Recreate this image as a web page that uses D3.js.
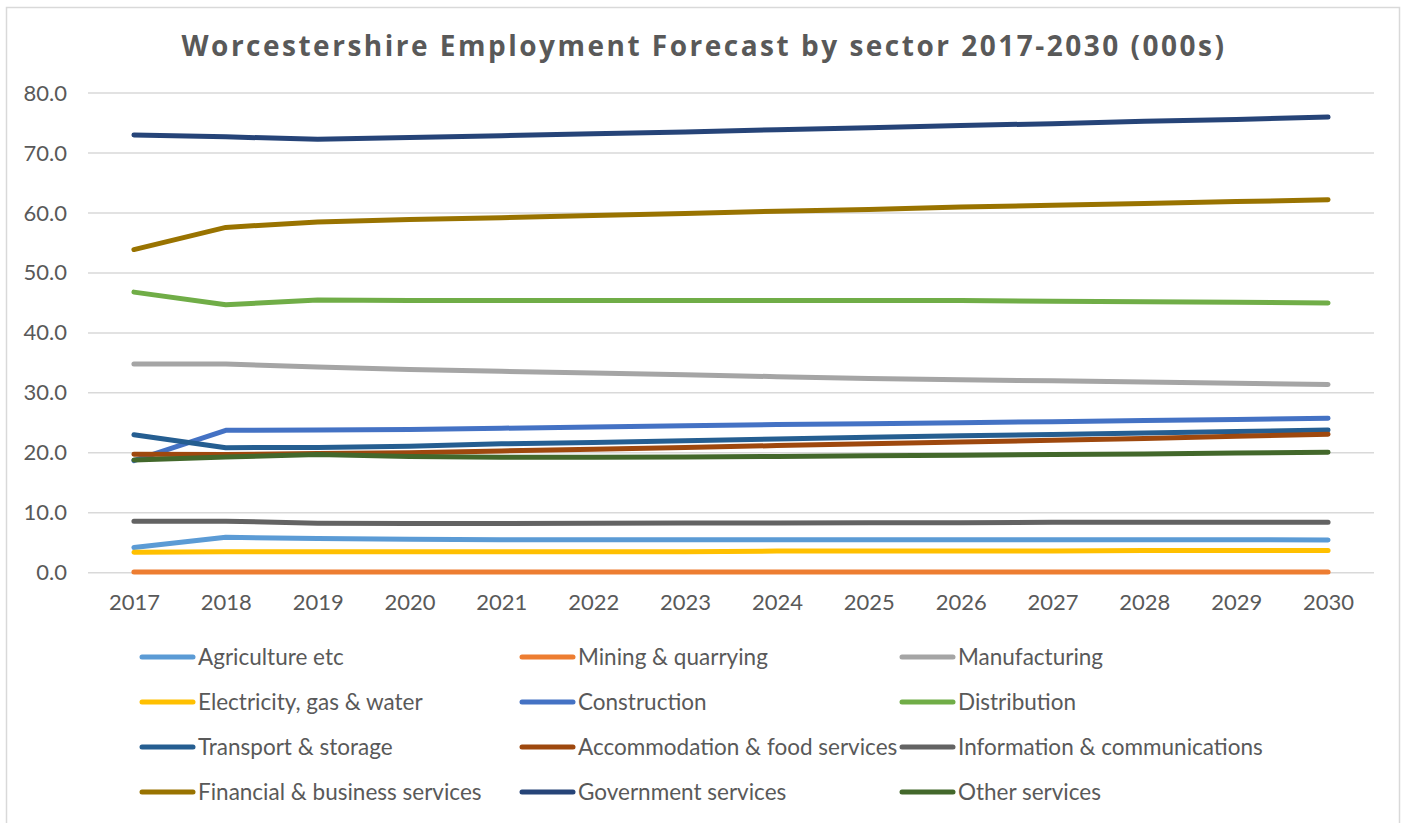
<!DOCTYPE html>
<html>
<head>
<meta charset="utf-8">
<script src="https://cdn.jsdelivr.net/npm/d3@7"></script>
<style>
  html, body { margin: 0; padding: 0; background: #ffffff; }
  svg { display: block; }
</style>
</head>
<body>
<svg id="chart" width="1404" height="823"></svg>
<script>
// Employment by sector, thousands of jobs
const years = ["2017","2018","2019","2020","2021","2022","2023","2024","2025","2026","2027","2028","2029","2030"];
const yTicks = [0, 10, 20, 30, 40, 50, 60, 70, 80];

const agriculture    = [4.2, 5.9, 5.7, 5.6, 5.5, 5.5, 5.5, 5.5, 5.5, 5.5, 5.5, 5.5, 5.5, 5.45];
const mining         = [0.1, 0.1, 0.1, 0.1, 0.1, 0.1, 0.1, 0.1, 0.1, 0.1, 0.1, 0.1, 0.1, 0.1];
const manufacturing  = [34.8, 34.8, 34.3, 33.9, 33.6, 33.3, 33.0, 32.7, 32.4, 32.2, 32.0, 31.8, 31.6, 31.4];
const electricity    = [3.4, 3.5, 3.5, 3.5, 3.5, 3.5, 3.5, 3.6, 3.6, 3.6, 3.6, 3.7, 3.7, 3.7];
const construction   = [18.7, 23.75, 23.8, 23.9, 24.1, 24.3, 24.5, 24.7, 24.85, 25.0, 25.2, 25.4, 25.55, 25.75];
const distribution   = [46.8, 44.7, 45.5, 45.4, 45.4, 45.4, 45.4, 45.4, 45.4, 45.4, 45.3, 45.2, 45.1, 45.0];
const transport      = [23.0, 20.85, 20.9, 21.1, 21.5, 21.7, 22.0, 22.3, 22.6, 22.85, 23.05, 23.3, 23.55, 23.8];
const accommodation  = [19.75, 19.7, 19.9, 20.0, 20.3, 20.6, 20.9, 21.2, 21.5, 21.8, 22.1, 22.4, 22.75, 23.1];
const information    = [8.6, 8.6, 8.25, 8.2, 8.2, 8.25, 8.3, 8.3, 8.35, 8.35, 8.4, 8.4, 8.4, 8.4];
const financial      = [53.9, 57.6, 58.5, 58.9, 59.2, 59.6, 59.9, 60.3, 60.6, 61.0, 61.3, 61.6, 61.9, 62.2];
const government     = [73.0, 72.7, 72.3, 72.6, 72.9, 73.2, 73.5, 73.9, 74.2, 74.6, 74.9, 75.3, 75.6, 76.0];
const otherServices  = [18.8, 19.3, 19.7, 19.4, 19.25, 19.25, 19.3, 19.4, 19.5, 19.6, 19.7, 19.8, 19.95, 20.1];

const seriesNames = [
  "Agriculture etc", "Mining & quarrying", "Manufacturing",
  "Electricity, gas & water", "Construction", "Distribution",
  "Transport & storage", "Accommodation & food services", "Information & communications",
  "Financial & business services", "Government services", "Other services"
];
const seriesValues = [
  agriculture, mining, manufacturing,
  electricity, construction, distribution,
  transport, accommodation, information,
  financial, government, otherServices
];
const seriesColors = [
  "#5B9BD5", "#ED7D31", "#A5A5A5",
  "#FFC000", "#4472C4", "#70AD47",
  "#255E91", "#9E480E", "#636363",
  "#997300", "#264478", "#43682B"
];

const series = seriesNames.map((name, i) => ({
  name, color: seriesColors[i],
  points: years.map((yr, j) => ({ year: yr, value: seriesValues[i][j] }))
}));

const svg = d3.select("#chart");
const textColor = "#595959";
const font = "Lato, 'Open Sans', sans-serif";

// chart frame
svg.append("rect")
  .attr("x", 6.5).attr("y", 7.5)
  .attr("width", 1393).attr("height", 830)
  .attr("fill", "#ffffff")
  .attr("stroke", "#d9d9d9").attr("stroke-width", 1.5);

// title
svg.append("text")
  .attr("x", 704).attr("y", 56)
  .attr("text-anchor", "middle")
  .attr("font-family", "'Open Sans', Lato, sans-serif")
  .attr("font-weight", 700)
  .attr("font-size", 28)
  .attr("letter-spacing", 2.5)
  .attr("fill", textColor)
  .text("Worcestershire Employment Forecast by sector 2017-2030 (000s)");

const plot = { left: 88, right: 1374, top: 93.1, bottom: 572.7 };

const x = d3.scalePoint().domain(years).range([plot.left, plot.right]).padding(0.5);
const y = d3.scaleLinear().domain([0, 80]).range([plot.bottom, plot.top]);

// horizontal gridlines
svg.append("g")
  .selectAll("line")
  .data(yTicks)
  .join("line")
  .attr("x1", plot.left).attr("x2", plot.right)
  .attr("y1", d => y(d)).attr("y2", d => y(d))
  .attr("stroke", "#d9d9d9").attr("stroke-width", 1.5);

// y axis labels
const yAxis = svg.append("g")
  .attr("transform", `translate(${plot.left - 21},0)`)
  .call(d3.axisLeft(y).tickValues(yTicks).tickFormat(d3.format(".1f")).tickSize(0).tickPadding(0));
yAxis.select(".domain").remove();
yAxis.selectAll("text")
  .attr("font-family", font).attr("font-size", 22).attr("fill", textColor);

// x axis labels
const xAxis = svg.append("g")
  .attr("transform", `translate(0,${plot.bottom + 22})`)
  .call(d3.axisBottom(x).tickSize(0).tickPadding(0));
xAxis.select(".domain").remove();
xAxis.selectAll("text")
  .attr("font-family", font).attr("font-size", 22).attr("fill", textColor);

// series lines
const line = d3.line().x(d => x(d.year)).y(d => y(d.value));
svg.append("g")
  .selectAll("path")
  .data(series)
  .join("path")
  .attr("d", d => line(d.points))
  .attr("fill", "none")
  .attr("stroke", d => d.color)
  .attr("stroke-width", 5)
  .attr("stroke-linecap", "round")
  .attr("stroke-linejoin", "round");

// legend: three columns, four rows
const legendCols = [140, 520, 900];
const legendRows = [657, 702, 747, 792];
const legend = svg.append("g")
  .selectAll("g")
  .data(series)
  .join("g")
  .attr("transform", (d, i) => `translate(${legendCols[i % 3]},${legendRows[Math.floor(i / 3)]})`);
legend.append("line")
  .attr("x1", 2).attr("x2", 53).attr("y1", 0).attr("y2", 0)
  .attr("stroke", d => d.color).attr("stroke-width", 5).attr("stroke-linecap", "round");
legend.append("text")
  .attr("x", 58).attr("y", 0).attr("dy", "0.35em")
  .attr("font-family", font).attr("font-size", 22.5).attr("fill", textColor)
  .text(d => d.name);
</script>
</body>
</html>
